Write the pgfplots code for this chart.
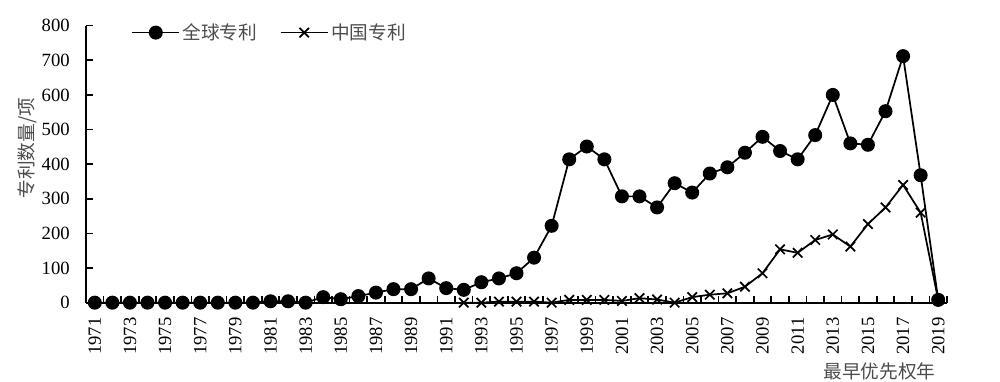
\documentclass[border=0pt]{standalone}
\usepackage{fontspec}
\setmainfont{Liberation Serif}
\newfontfamily\cjk{Noto Sans CJK SC}
\usepackage{pgfplots}
\pgfplotsset{compat=1.18}
\pgfplotstableread{
year global
1971 0
1972 0
1973 0
1974 0
1975 0
1976 0
1977 0
1978 0
1979 0
1980 0
1981 4
1982 4
1983 0
1984 16
1985 10
1986 19
1987 29
1988 39
1989 39
1990 70
1991 42
1992 37
1993 59
1994 70
1995 85
1996 130
1997 222
1998 414
1999 451
2000 414
2001 307
2002 307
2003 275
2004 345
2005 318
2006 373
2007 391
2008 433
2009 479
2010 438
2011 414
2012 484
2013 600
2014 460
2015 456
2016 553
2017 712
2018 368
2019 8
}\globaldata
\pgfplotstableread{
year china
1992 0
1993 0
1994 3
1995 3
1996 3
1997 0
1998 8
1999 8
2000 8
2001 5
2002 13
2003 9
2004 0
2005 16
2006 23
2007 27
2008 46
2009 85
2010 154
2011 144
2012 181
2013 197
2014 162
2015 227
2016 275
2017 340
2018 260
2019 8
}\chinadata
\begin{document}
\begin{tikzpicture}
\useasboundingbox (0pt,0pt) rectangle (750pt,286.5pt);
% labels-only axis for the years
\begin{axis}[
  at={(64.5pt,59.5pt)}, anchor=south west,
  scale only axis, width=645.75pt, height=207.75pt,
  xmin=1970.5, xmax=2019.5, ymin=0, ymax=800,
  axis x line*=bottom,
  axis y line=none,
  axis line style={draw=none},
  major tick length=0pt,
  xtick={1971,1973,...,2019},
  xticklabel style={rotate=90, anchor=east, inner sep=0pt, font=\fontsize{14}{16}\selectfont},
  xticklabel shift=11pt,
  /pgf/number format/assume math mode=true,
  /pgf/number format/1000 sep={},
  xlabel={最早优先权年},
  xlabel style={at={(axis description cs:0.992,-0.25)}, anchor=east, font=\cjk\fontsize{14}{16}\selectfont, text=black!70},
]
\end{axis}
\begin{axis}[
  at={(64.5pt,59.5pt)}, anchor=south west,
  scale only axis, width=645.75pt, height=207.75pt,
  xmin=1970.5, xmax=2019.5, ymin=0, ymax=800,
  axis x line*=bottom,
  axis y line*=left,
  axis line style={line width=1.6pt},
  tick align=inside,
  major tick length=5pt,
  xtick style={line width=1.2pt, black},
  ytick style={line width=1.2pt, black},
  xtick={1970.5,1971.5,...,2019.5},
  xticklabels={},
  ytick={0,100,...,800},
  yticklabel style={inner sep=0pt, font=\fontsize{14}{16}\selectfont},
  yticklabel shift=12pt,
  /pgf/number format/assume math mode=true,
  /pgf/number format/1000 sep={},
  unbounded coords=jump,
  ylabel={专利数量/项},
  ylabel style={at={(axis description cs:-0.068,0.558)}, anchor=center, font=\cjk\fontsize{14}{16}\selectfont, text=black!70},
  legend columns=2,
  legend style={at={(axis description cs:0.048,0.975)}, anchor=west, draw=none, fill=none,
    font=\cjk\fontsize{14}{16}\selectfont, text=black!70,
    /tikz/every even column/.append style={column sep=15pt}},
  legend image code/.code={\draw[mark repeat=2,mark phase=2,#1] plot coordinates {(0pt,0pt) (17.5pt,0pt) (35pt,0pt)};},
]
% category boundary ticks on the x axis (pointing inward)
\addplot[ycomb, black, line width=1.2pt, no markers, forget plot] coordinates {
(1971.5,19.3) (1972.5,19.3) (1973.5,19.3) (1974.5,19.3) (1975.5,19.3) (1976.5,19.3) (1977.5,19.3) (1978.5,19.3) (1979.5,19.3) (1980.5,19.3)
(1981.5,19.3) (1982.5,19.3) (1983.5,19.3) (1984.5,19.3) (1985.5,19.3) (1986.5,19.3) (1987.5,19.3) (1988.5,19.3) (1989.5,19.3) (1990.5,19.3)
(1991.5,19.3) (1992.5,19.3) (1993.5,19.3) (1994.5,19.3) (1995.5,19.3) (1996.5,19.3) (1997.5,19.3) (1998.5,19.3) (1999.5,19.3) (2000.5,19.3)
(2001.5,19.3) (2002.5,19.3) (2003.5,19.3) (2004.5,19.3) (2005.5,19.3) (2006.5,19.3) (2007.5,19.3) (2008.5,19.3) (2009.5,19.3) (2010.5,19.3)
(2011.5,19.3) (2012.5,19.3) (2013.5,19.3) (2014.5,19.3) (2015.5,19.3) (2016.5,19.3) (2017.5,19.3) (2018.5,19.3) (2019.5,19.3)};
% y axis ticks (pointing inward)
\addplot[black, line width=1.2pt, no markers, forget plot] coordinates {
(1970.5,100) (1970.88,100) (1970.7,nan)
(1970.5,200) (1970.88,200) (1970.7,nan)
(1970.5,300) (1970.88,300) (1970.7,nan)
(1970.5,400) (1970.88,400) (1970.7,nan)
(1970.5,500) (1970.88,500) (1970.7,nan)
(1970.5,600) (1970.88,600) (1970.7,nan)
(1970.5,700) (1970.88,700) (1970.7,nan)
(1970.5,800) (1970.88,800)};
\addplot[black, line width=1.3pt, mark=*, mark size=4.6pt, mark options={fill=black, solid}] table[x=year,y=global] {\globaldata};
\addlegendentry{全球专利}
\addplot[black, line width=1.3pt, mark=x, mark size=5pt, mark options={solid}] table[x=year,y=china] {\chinadata};
\addlegendentry{中国专利}
\end{axis}
\end{tikzpicture}
\end{document}
